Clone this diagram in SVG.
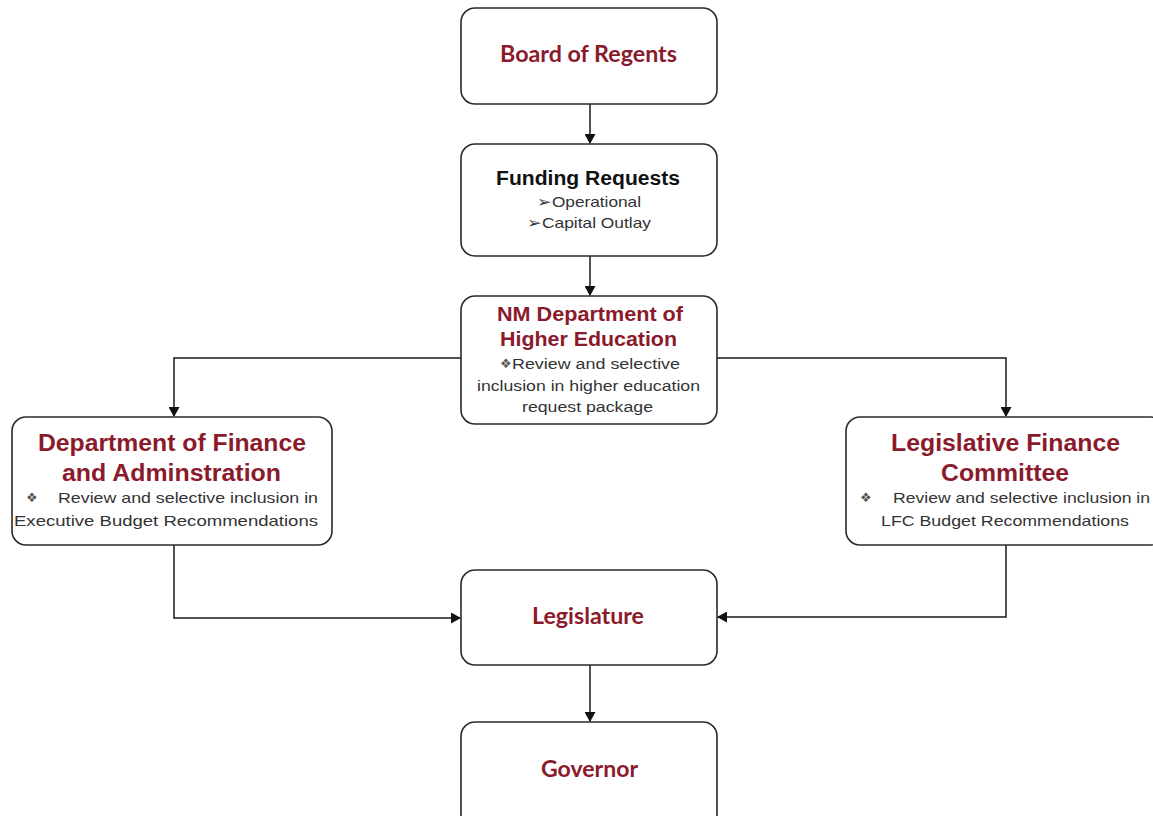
<svg xmlns="http://www.w3.org/2000/svg" width="1153" height="816" viewBox="0 0 1153 816">
  <defs>
    <marker id="arrow" markerWidth="10" markerHeight="11" refX="9" refY="5.5" orient="auto" markerUnits="userSpaceOnUse">
      <path d="M0,0 L10,5.5 L0,11 Z" fill="#111"/>
    </marker>
  </defs>
  <style>
    .box { fill: #ffffff; stroke: #2a2a2a; stroke-width: 1.6; }
    .link { fill: none; stroke: #1a1a1a; stroke-width: 1.5; marker-end: url(#arrow); }
    .title { font-family: "Liberation Sans", Arial, sans-serif; font-weight: bold; fill: #8a1a2c; }
    .titleC { font-family: Lato, "Open Sans", sans-serif; font-weight: bold; fill: #8a1a2c; font-size: 22px; }
    .black { font-family: "Liberation Sans", Arial, sans-serif; font-weight: bold; fill: #111; font-size: 20px; }
    .body { font-family: "Liberation Sans", Arial, sans-serif; fill: #333; }
    .mark { font-family: "DejaVu Sans", sans-serif; fill: #555; font-size: 13px; }
  </style>
  <rect width="1153" height="816" fill="#ffffff"/>

  <g id="connectors">
    <line class="link" x1="590" y1="104" x2="590" y2="143"/>
    <line class="link" x1="590" y1="256" x2="590" y2="295"/>
    <polyline class="link" points="461,358 174,358 174,416"/>
    <polyline class="link" points="717,358 1006,358 1006,416"/>
    <polyline class="link" points="174,545 174,618 460,618"/>
    <polyline class="link" points="1006,545 1006,617 718,617"/>
    <line class="link" x1="590" y1="665" x2="590" y2="721"/>
  </g>

  <g id="board-of-regents">
    <rect class="box" x="461" y="8" width="256" height="96" rx="14"/>
    <text class="titleC" x="500" y="62" textLength="177" lengthAdjust="spacingAndGlyphs">Board of Regents</text>
  </g>

  <g id="funding-requests">
    <rect class="box" x="461" y="144" width="256" height="112" rx="14"/>
    <text class="black" x="496" y="185" textLength="184" lengthAdjust="spacingAndGlyphs">Funding Requests</text>
    <text class="body" x="537" y="207" font-size="15" textLength="104" lengthAdjust="spacingAndGlyphs">➢Operational</text>
    <text class="body" x="527" y="228" font-size="15" textLength="124" lengthAdjust="spacingAndGlyphs">➢Capital Outlay</text>
  </g>

  <g id="nm-higher-education">
    <rect class="box" x="461" y="296" width="256" height="128" rx="14"/>
    <text class="title" x="497" y="321" font-size="20" textLength="186" lengthAdjust="spacingAndGlyphs">NM Department of</text>
    <text class="title" x="500" y="346" font-size="20" textLength="177" lengthAdjust="spacingAndGlyphs">Higher Education</text>
    <text class="mark" x="500" y="368">❖</text>
    <text class="body" x="512" y="369" font-size="15.5" textLength="168" lengthAdjust="spacingAndGlyphs">Review and selective</text>
    <text class="body" x="477" y="391" font-size="15.5" textLength="223" lengthAdjust="spacingAndGlyphs">inclusion in higher education</text>
    <text class="body" x="522" y="412" font-size="15.5" textLength="131" lengthAdjust="spacingAndGlyphs">request package</text>
  </g>

  <g id="finance-administration">
    <rect class="box" x="12" y="417" width="320" height="128" rx="14"/>
    <text class="title" x="38" y="451" font-size="23" textLength="268" lengthAdjust="spacingAndGlyphs">Department of Finance</text>
    <text class="title" x="62" y="481" font-size="23" textLength="219" lengthAdjust="spacingAndGlyphs">and Adminstration</text>
    <text class="mark" x="26" y="502">❖</text>
    <text class="body" x="58" y="503" font-size="15" textLength="260" lengthAdjust="spacingAndGlyphs">Review and selective inclusion in</text>
    <text class="body" x="14" y="526" font-size="15" textLength="304" lengthAdjust="spacingAndGlyphs">Executive Budget Recommendations</text>
  </g>

  <g id="legislative-finance-committee">
    <rect class="box" x="846" y="417" width="318" height="128" rx="14"/>
    <text class="title" x="891" y="451" font-size="23" textLength="229" lengthAdjust="spacingAndGlyphs">Legislative Finance</text>
    <text class="title" x="941" y="481" font-size="23" textLength="128" lengthAdjust="spacingAndGlyphs">Committee</text>
    <text class="mark" x="860" y="502">❖</text>
    <text class="body" x="893" y="503" font-size="15" textLength="257" lengthAdjust="spacingAndGlyphs">Review and selective inclusion in</text>
    <text class="body" x="881" y="526" font-size="15" textLength="248" lengthAdjust="spacingAndGlyphs">LFC Budget Recommendations</text>
  </g>

  <g id="legislature">
    <rect class="box" x="461" y="570" width="256" height="95" rx="14"/>
    <text class="titleC" x="532" y="624" textLength="112" lengthAdjust="spacingAndGlyphs">Legislature</text>
  </g>

  <g id="governor">
    <rect class="box" x="461" y="722" width="256" height="110" rx="14"/>
    <text class="titleC" x="541" y="777" textLength="97" lengthAdjust="spacingAndGlyphs">Governor</text>
  </g>
</svg>
